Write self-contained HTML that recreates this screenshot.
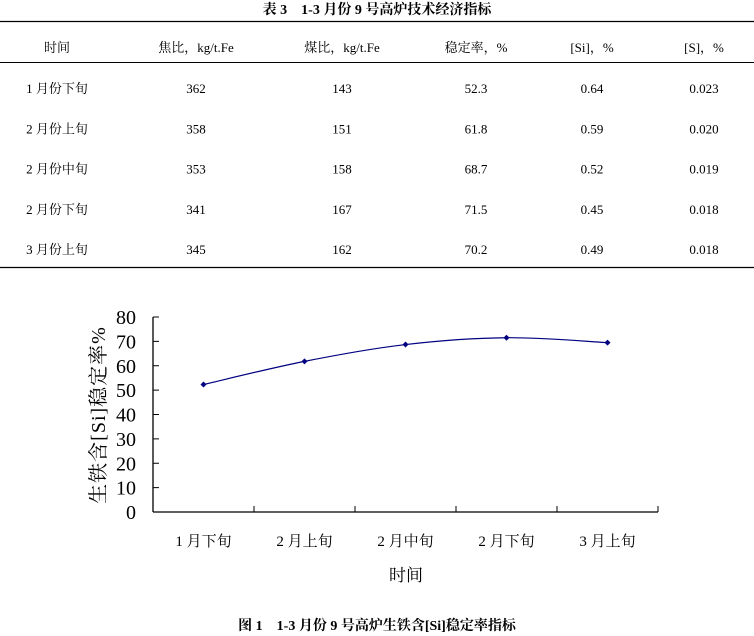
<!DOCTYPE html>
<html><head><meta charset="utf-8"><style>
body{margin:0;background:#fff;width:754px;height:636px;overflow:hidden}
svg{display:block}
text{font-family:"Liberation Serif","Noto Serif CJK SC","Noto Sans CJK SC",serif;fill:#000}
.t{font-size:13px}
</style></head><body>
<svg id="s" width="754" height="636">
<text x="377" y="14" text-anchor="middle" font-size="14" font-weight="bold">表 3　1-3 月份 9 号高炉技术经济指标</text>
<line x1="0" y1="21.5" x2="754" y2="21.5" stroke="#000" stroke-width="1.2"/>
<line x1="0" y1="62.5" x2="754" y2="62.5" stroke="#000" stroke-width="1"/>
<line x1="0" y1="267.5" x2="754" y2="267.5" stroke="#000" stroke-width="1.2"/>
<g id="tbl"></g>
<g id="chart"></g>
<text x="377" y="630" text-anchor="middle" font-size="14" font-weight="bold">图 1　1-3 月份 9 号高炉生铁含[Si]稳定率指标</text>
</svg>
<script>
const headers=["时间","焦比，kg/t.Fe","煤比，kg/t.Fe","稳定率，%","[Si]，%","[S]，%"];
const rowsData=[
["1 月份下旬","362","143","52.3","0.64","0.023"],
["2 月份上旬","358","151","61.8","0.59","0.020"],
["2 月份中旬","353","158","68.7","0.52","0.019"],
["2 月份下旬","341","167","71.5","0.45","0.018"],
["3 月份上旬","345","162","70.2","0.49","0.018"]];
const categories=["1 月下旬","2 月上旬","2 月中旬","2 月下旬","3 月上旬"];
const values=[52.3,61.8,68.7,71.5,69.5];
const yTicks=[0,10,20,30,40,50,60,70,80];
const NS="http://www.w3.org/2000/svg";
function mk(tag,attrs,parent,txt){const e=document.createElementNS(NS,tag);for(const k in attrs)e.setAttribute(k,attrs[k]);if(txt!=null)e.textContent=txt;parent.appendChild(e);return e;}
const colX=[57,196,342,476,592,704];
const tbl=document.getElementById('tbl');
headers.forEach((h,i)=>{const e=mk('text',{x:colX[i],y:52,'text-anchor':'middle',class:'t'},tbl,h);

});
rowsData.forEach((r,ri)=>r.forEach((c,ci)=>{const e=mk('text',{x:colX[ci],y:93+ri*40.3,'text-anchor':'middle',class:'t'},tbl,c);

}));
// chart
const g=document.getElementById('chart');
const x0=153,x1=658,y0=512,y1=317,yMax=80;
const bw=(x1-x0)/categories.length;
const xs=i=>x0+bw*(i+0.5);
const ys=v=>y0-(v/yMax)*(y0-y1);
let e=mk('line',{x1:x0,y1:y1,x2:x0,y2:y0,stroke:'#000','stroke-width':1.3},g);


e=mk('line',{x1:x0,y1:y0,x2:x1,y2:y0,stroke:'#000','stroke-width':1.3},g);


yTicks.forEach(t=>{const y=ys(t);
const l=mk('line',{x1:x0,y1:y,x2:x0+6,y2:y,stroke:'#000','stroke-width':1},g);


const tx=mk('text',{x:136,y:y+7,'text-anchor':'end','font-size':20},g,String(t));

});
for(let i=1;i<=categories.length;i++){const x=x0+bw*i;
const l=mk('line',{x1:x,y1:y0,x2:x,y2:y0-6,stroke:'#000','stroke-width':1},g);

}
categories.forEach((c,i)=>{const tx=mk('text',{x:xs(i),y:546,'text-anchor':'middle','font-size':15},g,c);

});
e=mk('text',{x:406,y:581,'text-anchor':'middle','font-size':17},g,'时间');


e=mk('text',{x:0,y:0,'text-anchor':'middle','font-size':20,'letter-spacing':'1',transform:'translate(105,415) rotate(-90)'},g,'生铁含[Si]稳定率%');


const pts=values.map((v,i)=>[xs(i),ys(v)]);
let d='M'+pts[0][0]+','+pts[0][1];
for(let i=0;i<pts.length-1;i++){const p0=pts[Math.max(i-1,0)],p1=pts[i],p2=pts[i+1],p3=pts[Math.min(i+2,pts.length-1)];
d+=' C'+(p1[0]+(p2[0]-p0[0])/6)+','+(p1[1]+(p2[1]-p0[1])/6)+' '+(p2[0]-(p3[0]-p1[0])/6)+','+(p2[1]-(p3[1]-p1[1])/6)+' '+p2[0]+','+p2[1];}
e=mk('path',{d:d,fill:'none',stroke:'#000080','stroke-width':1.2},g);


pts.forEach((p,i)=>{const m=mk('path',{d:`M${p[0]-3},${p[1]} L${p[0]},${p[1]-3} L${p[0]+3},${p[1]} L${p[0]},${p[1]+3}Z`,fill:'#000080'},g);

});
</script>
</body></html>
